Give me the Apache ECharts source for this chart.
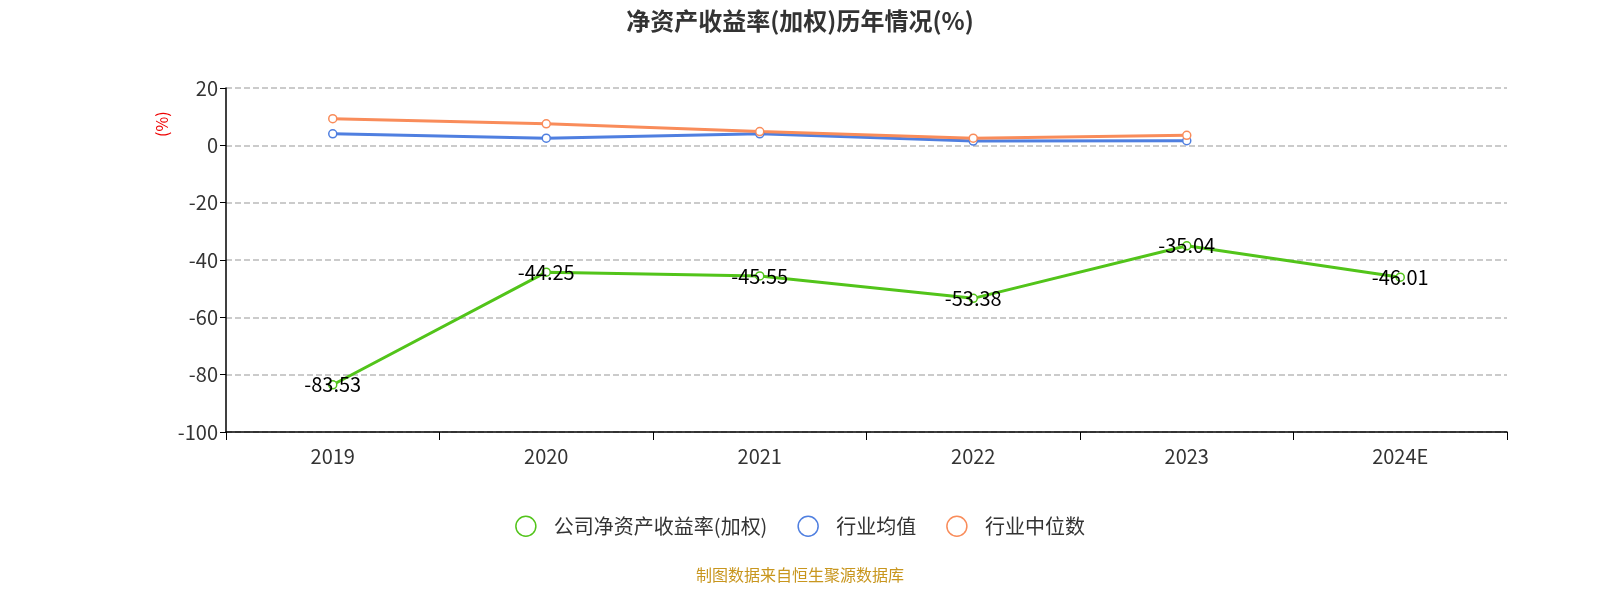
<!DOCTYPE html><html><head><meta charset="utf-8"><script src="https://cdn.jsdelivr.net/npm/echarts@6/dist/echarts.min.js"></script></head><body style="margin:0;overflow:hidden"><div id="c" style="width:1600px;height:600px"></div><script>
const categories=['2019','2020','2021','2022','2023','2024E'];
const company=[-83.53,-44.25,-45.55,-53.38,-35.04,-46.01];
const industryAvg=[4.0,2.5,4.0,1.5,1.6,null];
const industryMedian=[9.3,7.5,4.8,2.5,3.5,null];
const yTicks={min:-100,max:20,interval:20};
const f='"Noto Sans CJK SC","Noto Sans",sans-serif';
const c=echarts.init(document.getElementById('c'));
const mk=(name,data,color,label)=>({name,type:'line',data,smooth:false,symbol:'circle',symbolSize:8,
 itemStyle:{color:'#fff',borderColor:color,borderWidth:1.5},lineStyle:{color,width:3},
 label:{show:label,position:'inside',color:'#000',fontSize:20,fontFamily:f,formatter:p=>p.value.toFixed(2)}});
const lg=(name,color)=>({name,icon:'circle',itemStyle:{color:'#fff',borderColor:color,borderWidth:1.5},lineStyle:{color,width:2}});
c.setOption({animation:false,textStyle:{fontFamily:f},
title:{text:'净资产收益率(加权)历年情况(%)',left:'center',top:4,textStyle:{fontSize:24,fontWeight:'bold',color:'#333',fontFamily:f}},
grid:{left:226,right:93,top:88,bottom:168},
xAxis:[{type:'category',data:categories,position:'bottom',axisLine:{show:false},axisTick:{show:false},axisLabel:{fontSize:20,color:'#333',margin:14}},
{type:'category',data:categories,position:'bottom',axisLine:{onZero:true,lineStyle:{color:'#000',width:1.5}},axisTick:{show:true,length:8,lineStyle:{color:'#000'}},axisLabel:{show:false}}],
yAxis:{type:'value',min:yTicks.min,max:yTicks.max,interval:yTicks.interval,
 axisLine:{show:true,lineStyle:{color:'#000',width:1.5}},axisTick:{show:true,length:6},axisLabel:{fontSize:20,color:'#333'},
 splitLine:{lineStyle:{type:'dashed',color:'#bbb',width:1.5}}},
legend:{bottom:58,itemWidth:46,itemHeight:20,itemGap:30,textStyle:{fontSize:20,color:'#333'},
 data:[lg('公司净资产收益率(加权)','#52c41a'),lg('行业均值','#4f7fe0'),lg('行业中位数','#f98c5a')]},
graphic:[{type:'text',left:'center',top:567,style:{text:'制图数据来自恒生聚源数据库',fill:'#c8961e',font:'16px '+f}},
{type:'text',x:154,y:137,rotation:Math.PI/2,style:{text:'(%)',fill:'#e00',font:'16px '+f}}],
series:[mk('公司净资产收益率(加权)',company,'#52c41a',true),mk('行业均值',industryAvg,'#4f7fe0',false),mk('行业中位数',industryMedian,'#f98c5a',false)]});
</script></body></html>
